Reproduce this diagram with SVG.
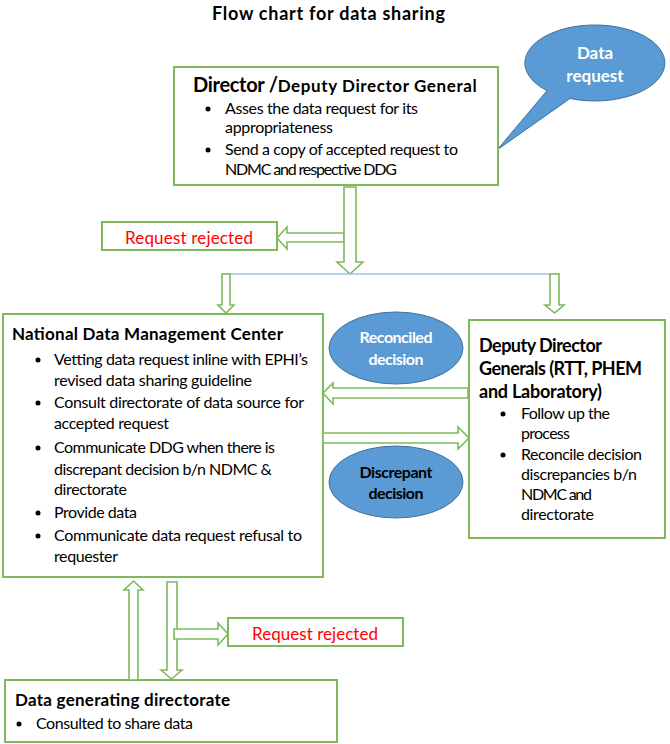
<svg xmlns="http://www.w3.org/2000/svg" width="670" height="744" viewBox="0 0 670 744">
<style>
text{font-family:Lato,"Liberation Sans",sans-serif;fill:#000}
.box{fill:#fff;stroke:#7FB95C;stroke-width:2}
.arr{fill:#fff;stroke:#7FB95C;stroke-width:1.6;stroke-linejoin:miter}
.b{font-weight:bold}
.t15{font-size:16px}
.t16{font-size:17px}
.t17{font-size:18px}
.rej{font-size:17px;fill:#FF0000}
.ell{fill:#5B9BD5;stroke:#41719C;stroke-width:1}
.wt{fill:#fff;font-weight:bold;font-size:16px}
.dot{fill:#000}
</style>
<rect width="670" height="744" fill="#fff"/>
<text x="212" y="20" class="b t17" textLength="233">Flow chart for data sharing</text>

<g id="data-request">
<path class="ell" d="M547,90.7 L497,150 L570,98.5 A70,38 0 1 0 547,90.7 Z"/>
<text x="595" y="59" class="wt" text-anchor="middle" style="font-size:17px">Data</text>
<text x="595" y="82" class="wt" text-anchor="middle" style="font-size:17px">request</text>
</g>

<g id="director">
<rect class="box" x="174" y="67" width="324" height="118"/>
<text x="193" y="92" class="b" style="font-size:20px"><tspan textLength="85">Director /</tspan><tspan class="t16" textLength="199">Deputy Director General</tspan></text>
<circle class="dot" cx="208" cy="109" r="2.5"/>
<text x="225" y="114" class="t15" textLength="193">Asses the data request for its</text>
<text x="225" y="133" class="t15" textLength="108">appropriateness</text>
<circle class="dot" cx="208" cy="150" r="2.5"/>
<text x="225" y="155" class="t15" textLength="233">Send a copy of accepted request to</text>
<text x="225" y="175" class="t15" textLength="172">NDMC and respective DDG</text>
</g>

<g id="rejected-1">
<rect class="box" x="102" y="222" width="175" height="28"/>
<text x="125" y="244" class="rej" textLength="128">Request rejected</text>
</g>

<g id="ndmc">
<rect class="box" x="3" y="314" width="320" height="263"/>
<text x="12" y="340" class="b t16" textLength="271">National Data Management Center</text>
<circle class="dot" cx="38" cy="360" r="2.5"/>
<text x="54" y="365" class="t15" textLength="254">Vetting data request inline with EPHI’s</text>
<text x="54" y="386" class="t15" textLength="198">revised data sharing guideline</text>
<circle class="dot" cx="38" cy="403" r="2.5"/>
<text x="54" y="408" class="t15" textLength="250">Consult directorate of data source for</text>
<text x="54" y="429" class="t15" textLength="115">accepted request</text>
<circle class="dot" cx="38" cy="448" r="2.5"/>
<text x="54" y="453" class="t15" textLength="221">Communicate DDG when there is</text>
<text x="54" y="475" class="t15" textLength="218">discrepant decision b/n NDMC &amp;</text>
<text x="54" y="495" class="t15" textLength="73">directorate</text>
<circle class="dot" cx="38" cy="513" r="2.5"/>
<text x="54" y="518" class="t15" textLength="83">Provide data</text>
<circle class="dot" cx="38" cy="536" r="2.5"/>
<text x="54" y="541" class="t15" textLength="248">Communicate data request refusal to</text>
<text x="54" y="562" class="t15" textLength="64">requester</text>
</g>

<g id="ddg">
<rect class="box" x="469" y="320" width="196" height="218"/>
<text x="479" y="352" class="b t17" textLength="123">Deputy Director</text>
<text x="479" y="375" class="b t17" textLength="163">Generals (RTT, PHEM</text>
<text x="479" y="398" class="b t17" textLength="123">and Laboratory)</text>
<circle class="dot" cx="503" cy="414" r="2.5"/>
<text x="521" y="419" class="t15" textLength="89">Follow up the</text>
<text x="521" y="439" class="t15" textLength="49">process</text>
<circle class="dot" cx="503" cy="455" r="2.5"/>
<text x="521" y="460" class="t15" textLength="121">Reconcile decision</text>
<text x="521" y="480" class="t15" textLength="116">discrepancies b/n</text>
<text x="521" y="500" class="t15" textLength="71">NDMC and</text>
<text x="521" y="520" class="t15" textLength="73">directorate</text>
</g>

<g id="reconciled">
<ellipse class="ell" cx="396" cy="348" rx="67" ry="36"/>
<text x="396" y="343" class="wt" text-anchor="middle" textLength="73">Reconciled</text>
<text x="396" y="365" class="wt" text-anchor="middle" textLength="55">decision</text>
</g>

<g id="discrepant">
<ellipse class="ell" cx="396" cy="482" rx="67" ry="36"/>
<text x="396" y="478" class="b t15" text-anchor="middle" textLength="73">Discrepant</text>
<text x="396" y="499" class="b t15" text-anchor="middle" textLength="55">decision</text>
</g>

<g id="rejected-2">
<rect class="box" x="228" y="618" width="175" height="28"/>
<text x="252" y="640" class="rej" textLength="126">Request rejected</text>
</g>

<g id="data-generating">
<rect class="box" x="5" y="680" width="332" height="62"/>
<text x="15" y="706" class="b t16" textLength="215">Data generating directorate</text>
<circle class="dot" cx="19" cy="724" r="2.5"/>
<text x="36" y="729" class="t15" textLength="157">Consulted to share data</text>
</g>

<g id="connectors">
<polygon class="arr" points="344,233 287,233 287,227 277,238 287,249 287,242 344,242"/>
<polygon class="arr" points="344,187 356,187 356,262 363,262 350,274 337,262 344,262"/>
<line x1="223" y1="274" x2="559" y2="274" stroke="#9DC3E6" stroke-width="1.5"/>
<polygon class="arr" points="222,274 230,274 230,305 234,305 226,313 218,305 222,305"/>
<polygon class="arr" points="550,274 559,274 559,305 564,305 554.5,313 545,305 550,305"/>
<polygon class="arr" points="468,388 333,388 333,383 323,393 333,404 333,398 468,398"/>
<polygon class="arr" points="323,433 458,433 458,427 469,438 458,449 458,443 323,443"/>
<polygon class="arr" points="129,680 129,590 124,590 133.5,581 143,590 138,590 138,680"/>
<polygon class="arr" points="167,582 177,582 177,670 182,670 171.5,679 161,670 167,670"/>
<polygon class="arr" points="174,629 218,629 218,623 228,634 218,645 218,639 174,639"/>
</g>
</svg>
